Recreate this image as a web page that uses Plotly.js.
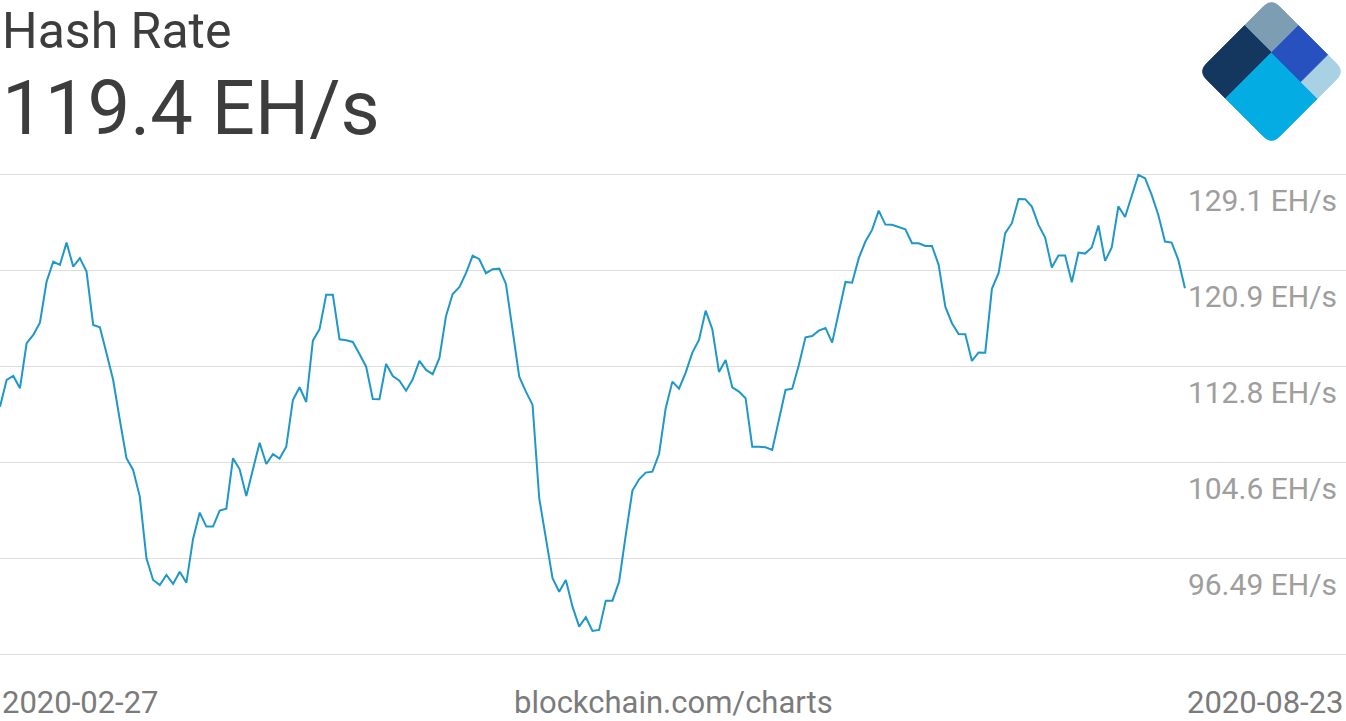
<!DOCTYPE html>
<html>
<head>
<meta charset="utf-8">
<script src="https://cdn.plot.ly/plotly-3.0.1.min.js"></script>
<style>
  html, body { margin: 0; padding: 0; background: #ffffff; }
  #chart { width: 1346px; height: 721px; }
</style>
</head>
<body>
<div id="chart"></div>
<script>
// ---- Data ----
const startDate = '2020-02-27';
const endDate = '2020-08-23';
const hashRate = [
  109.37,111.64,111.98,110.94,114.76,115.47,116.51,120.00,121.70,121.42,
  123.31,121.27,121.99,120.85,116.32,116.12,113.91,111.64,108.24,104.99,
  104.00,101.73,96.49,94.65,94.22,95.07,94.31,95.35,94.42,98.13,
  100.37,99.18,99.18,100.54,100.71,104.99,104.05,101.79,104.05,106.31,
  104.50,105.33,104.96,105.97,109.94,111.02,109.77,114.98,115.95,118.89,
  118.89,115.10,115.02,114.87,113.85,112.77,110.03,110.01,113.00,111.98,
  111.58,110.73,111.70,113.26,112.49,112.13,113.49,117.08,118.95,119.52,
  120.71,122.21,121.90,120.71,121.05,121.10,119.80,115.89,111.92,110.65,
  109.52,101.59,98.19,94.79,93.65,94.65,92.38,90.68,91.48,90.31,
  90.40,92.89,92.89,94.50,98.47,102.24,103.20,103.77,103.85,105.35,
  109.24,111.50,110.90,112.26,113.96,115.04,117.53,115.95,112.32,113.34,
  111.02,110.65,110.09,105.97,105.97,105.92,105.69,108.24,110.79,110.90,
  112.92,115.27,115.38,115.83,116.06,114.81,117.45,119.97,119.91,121.99,
  123.40,124.39,126.03,124.84,124.82,124.62,124.45,123.26,123.26,123.03,
  123.03,121.42,117.87,116.46,115.55,115.53,113.26,113.98,113.96,119.38,
  120.71,124.11,124.96,127.02,127.00,126.37,124.82,123.74,121.19,122.21,
  122.21,119.95,122.46,122.38,122.89,124.76,121.76,122.89,126.40,125.49,
  127.36,129.06,128.78,127.36,125.66,123.40,123.31,121.84,119.44
];
const yTickVals = [88.34, 96.49, 104.64, 112.79, 120.94, 129.09];
const yTickText = ['', '96.49 EH/s', '104.6 EH/s', '112.8 EH/s', '120.9 EH/s', '129.1 EH/s'];
const titleText = 'Hash Rate';
const currentText = '119.4 EH/s';
const sourceText = 'blockchain.com/charts';

// daily dates for the x axis
const dates = [];
{
  const d0 = new Date(startDate + 'T00:00:00Z');
  for (let i = 0; i < hashRate.length; i++) {
    const d = new Date(d0.getTime() + i * 86400000);
    dates.push(d.toISOString().slice(0, 10));
  }
}

// ---- Layout geometry ----
const W = 1346, H = 721;
const M = { l: 0, r: 0, t: 160, b: 51 };
const plotH = H - M.t - M.b;
const px2paperX = x => (x - M.l) / (W - M.l - M.r);
const px2paperY = y => (H - M.b - y) / plotH;

// Logo (blockchain.com diamond) as paper-referenced shapes
function logoShapes() {
  const cx = 1271.5, cy = 71.5, d = 73;
  const P = (a, b) => [px2paperX(cx + d * (a - b)), px2paperY(cy - d + d * (a + b))];
  const s = (pt) => pt[0].toFixed(5) + ',' + pt[1].toFixed(5);
  const p = 0.37, q = 0.77, r = 0.11;
  const pieces = [
    { col: '#7d9db3', path: `M${s(P(p,0))} L${s(P(r,0))} Q${s(P(0,0))} ${s(P(0,r))} L${s(P(0,p))} L${s(P(p,p))} Z` },
    { col: '#13375f', path: `M${s(P(0,p))} L${s(P(0,1-r))} Q${s(P(0,1))} ${s(P(r,1))} L${s(P(p,1))} L${s(P(p,p))} Z` },
    { col: '#03ace3', path: `M${s(P(p,p))} L${s(P(p,1))} L${s(P(1-r,1))} Q${s(P(1,1))} ${s(P(1,1-r))} L${s(P(1,p))} Z` },
    { col: '#a9d1e4', path: `M${s(P(q,0))} L${s(P(1-r,0))} Q${s(P(1,0))} ${s(P(1,r))} L${s(P(1,p))} L${s(P(q,p))} Z` },
    { col: '#2751bf', path: `M${s(P(p,0))} L${s(P(q,0))} L${s(P(q,p))} L${s(P(p,p))} Z` }
  ];
  return pieces.map(pc => ({
    type: 'path', xref: 'paper', yref: 'paper', path: pc.path,
    fillcolor: pc.col, line: { color: pc.col, width: 0.8 }, layer: 'above'
  }));
}

const trace = {
  type: 'scatter', mode: 'lines',
  x: dates, y: hashRate,
  line: { color: '#1f97c9', width: 2 },
  hoverinfo: 'x+y'
};

const layout = {
  width: W, height: H,
  margin: M,
  paper_bgcolor: '#ffffff', plot_bgcolor: '#ffffff',
  showlegend: false,
  font: { family: 'Roboto, "Noto Sans", sans-serif' },
  xaxis: {
    type: 'date',
    range: [startDate, '2020-09-16 04:34'],
    showgrid: false, zeroline: false, showline: false,
    showticklabels: false, ticks: '', fixedrange: true
  },
  yaxis: {
    range: [86.997, 130.33],
    tickmode: 'array', tickvals: yTickVals, ticktext: yTickText,
    side: 'right', ticklabelposition: 'inside', ticklabelshift: 26,
    ticklabelstandoff: 6,
    ticks: '', showline: false, zeroline: false,
    showgrid: true, gridcolor: '#dddddd', gridwidth: 1,
    tickfont: { family: 'Roboto', size: 30, color: '#9e9e9e' },
    fixedrange: true
  },
  shapes: logoShapes(),
  annotations: [
    { text: titleText, xref: 'paper', yref: 'paper', x: px2paperX(0), y: px2paperY(31),
      xanchor: 'left', yanchor: 'middle', showarrow: false,
      font: { family: 'Roboto', size: 50, color: '#3d3d3d' } },
    { text: currentText, xref: 'paper', yref: 'paper', x: px2paperX(0), y: px2paperY(108),
      xanchor: 'left', yanchor: 'middle', showarrow: false,
      font: { family: 'Roboto', size: 76, color: '#3d3d3d' } },
    { text: startDate, xref: 'paper', yref: 'paper', x: 0, y: px2paperY(702),
      xanchor: 'left', yanchor: 'middle', showarrow: false,
      font: { family: 'Roboto', size: 31, color: '#7b7b7b' } },
    { text: sourceText, xref: 'paper', yref: 'paper', x: 0.5, y: px2paperY(702),
      xanchor: 'center', yanchor: 'middle', showarrow: false,
      font: { family: 'Roboto', size: 31, color: '#7b7b7b' } },
    { text: endDate, xref: 'paper', yref: 'paper', x: 1, y: px2paperY(702),
      xanchor: 'right', yanchor: 'middle', showarrow: false,
      font: { family: 'Roboto', size: 31, color: '#7b7b7b' } }
  ]
};

Plotly.newPlot('chart', [trace], layout, { displayModeBar: false, staticPlot: true });
</script>
</body>
</html>
